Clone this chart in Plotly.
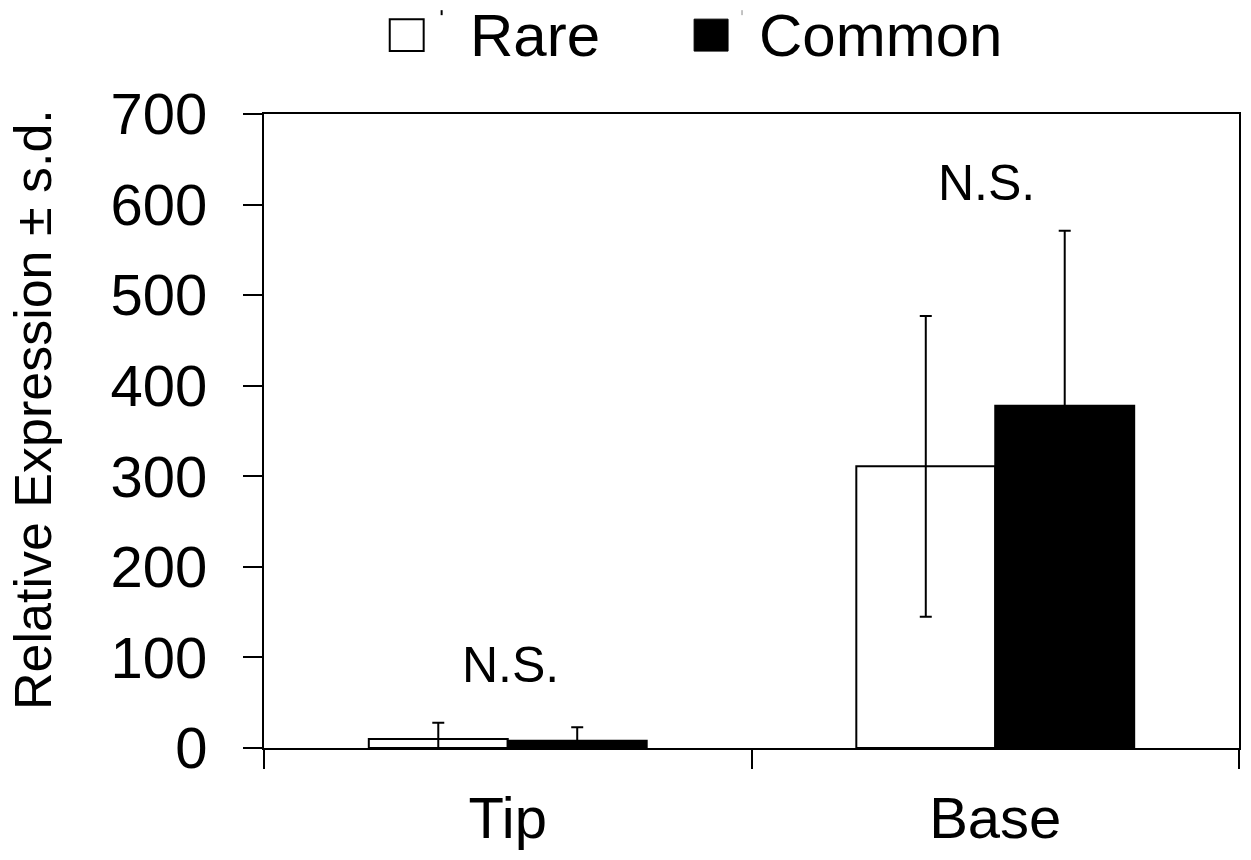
import plotly.graph_objects as go

categories = ["Tip", "Base"]
rare_values = [10, 311]
rare_sd = [18, 166]
common_values = [8, 378]
common_sd = [15, 193]
series_names = ["Rare", "Common"]
ns_labels = ["N.S.", "N.S."]
ns_y = [92, 624]
y_ticks = [0, 100, 200, 300, 400, 500, 600, 700]

FONT = "Liberation Sans, Arial, sans-serif"
W, H = 1251, 860
L, R, T, B = 264, 10, 114, 111
PW, PH = W - L - R, H - T - B

def px(x):
    return (x - L) / PW

def py(y):
    return (H - B - y) / PH

fig = go.Figure()
fig.add_trace(go.Bar(
    x=categories, y=rare_values, name=series_names[0],
    marker=dict(color="white", line=dict(color="black", width=2)),
    error_y=dict(type="data", array=rare_sd, visible=True, color="black", thickness=2, width=6),
    showlegend=False,
))
fig.add_trace(go.Bar(
    x=categories, y=common_values, name=series_names[1],
    marker=dict(color="black", line=dict(color="black", width=2)),
    error_y=dict(type="data", array=common_sd, visible=True, color="black", thickness=2, width=6),
    showlegend=False,
))

annotations = []
for c, lab, yy, xs in zip(categories, ns_labels, ns_y, [3, -9]):
    annotations.append(dict(x=c, y=yy, xref="x", yref="y", text=lab, showarrow=False,
                            xshift=xs, font=dict(family=FONT, size=50, color="black")))
# y-axis title
annotations.append(dict(x=px(32), y=py(410), xref="paper", yref="paper",
                        xanchor="center", yanchor="middle",
                        text="Relative Expression ± s.d.", textangle=-90, showarrow=False,
                        font=dict(family=FONT, size=52, color="black")))
# legend texts
annotations.append(dict(x=px(468), y=py(35), xref="paper", yref="paper",
                        xanchor="left", yanchor="middle",
                        text=series_names[0], showarrow=False,
                        font=dict(family=FONT, size=60, color="black")))
annotations.append(dict(x=px(758), y=py(35), xref="paper", yref="paper",
                        xanchor="left", yanchor="middle",
                        text=series_names[1], showarrow=False,
                        font=dict(family=FONT, size=60, color="black")))

shapes = [
    dict(type="rect", xref="paper", yref="paper", x0=px(390), x1=px(424), y0=py(51), y1=py(19),
         line=dict(color="black", width=2), fillcolor="white"),
    dict(type="rect", xref="paper", yref="paper", x0=px(695), x1=px(729), y0=py(51), y1=py(19),
         line=dict(color="black", width=1), fillcolor="black"),
    dict(type="line", xref="paper", yref="paper", x0=px(442), x1=px(442), y0=py(10), y1=py(15),
         line=dict(color="black", width=2)),
    dict(type="line", xref="paper", yref="paper", x0=px(743), x1=px(743), y0=py(10), y1=py(15),
         line=dict(color="#888", width=1)),
]

fig.update_layout(
    width=W, height=H,
    margin=dict(l=L, r=R, t=T, b=B),
    paper_bgcolor="white", plot_bgcolor="white",
    barmode="group", bargap=0.43, bargroupgap=0,
    annotations=annotations, shapes=shapes,
    font=dict(family=FONT, color="black"),
)
fig.update_xaxes(
    type="category", range=[-0.5, 1.5], tickson="boundaries",
    ticks="outside", ticklen=19, tickwidth=2, tickcolor="black",
    showline=True, linecolor="black", linewidth=2, mirror=True,
    showgrid=False, zeroline=False,
    tickfont=dict(family=FONT, size=58, color="black"),
    ticklabelstandoff=18,
)
fig.update_yaxes(
    range=[0, 700], tickvals=y_ticks,
    ticks="outside", ticklen=19, tickwidth=2, tickcolor="black",
    showline=True, linecolor="black", linewidth=2, mirror=True,
    showgrid=False, zeroline=False,
    tickfont=dict(family=FONT, size=58, color="black"),
    ticklabelstandoff=24,
)
fig.write_html("out.html")
